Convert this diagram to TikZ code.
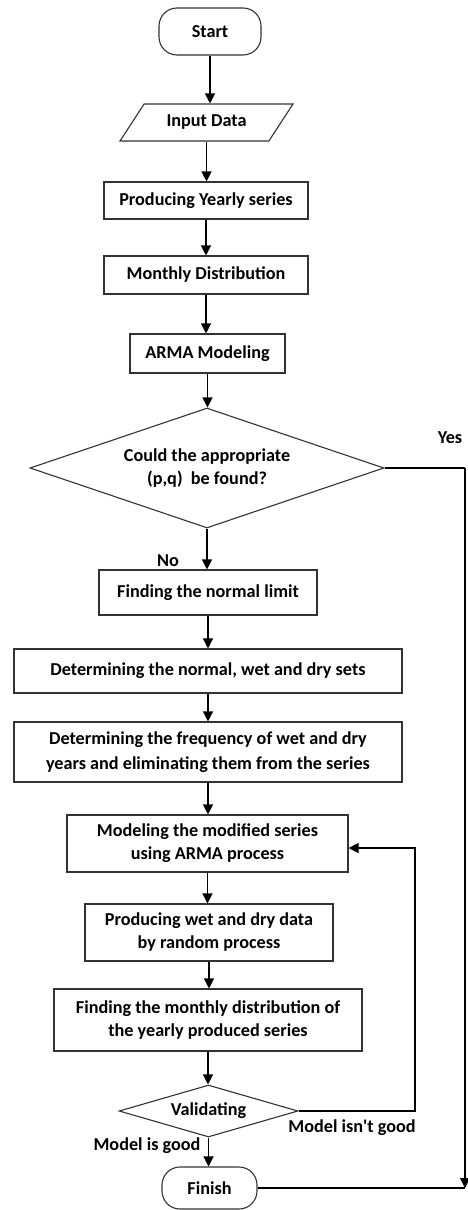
\documentclass[tikz,border=0pt]{standalone}
\usepackage{fontspec}
\setmainfont{Carlito}
\usetikzlibrary{shapes.geometric,arrows.meta,calc}
\begin{document}
\begin{tikzpicture}[x=1pt,y=-1pt,
  every node/.style={font=\fontsize{18.2}{23}\selectfont\bfseries, text=black, align=center},
  procbox/.style={draw=black!80, line width=1.1pt, rectangle, inner sep=0pt},
  termbox/.style={draw=black!80, line width=1.1pt, rectangle, rounded corners=18pt, inner sep=0pt},
  iobox/.style={draw=black!80, line width=1.1pt, trapezium, trapezium left angle=43.5, trapezium right angle=136.5, trapezium stretches=true, inner sep=0pt},
  decbox/.style={draw=black!80, line width=1.1pt, diamond, inner sep=0pt},
  conn/.style={draw=black, line width=1.2pt},
  arr/.style={conn, -{Triangle[width=10pt,length=10pt]}},
  lbl/.style={inner sep=0pt}
]
\useasboundingbox (0,0) rectangle (467,1210);
\fill[white] (0,0) rectangle (467,1210);

\node[termbox, minimum width=102pt, minimum height=47pt] (start) at (210,31.5) {Start};
\node[iobox, minimum width=173pt, minimum height=37pt] (input) at (206.5,122.5) {Input Data};
\node[procbox, minimum width=204pt, minimum height=37pt] (yearly) at (206,200.5) {Producing Yearly series};
\node[procbox, minimum width=204pt, minimum height=38pt] (monthly) at (206,275) {Monthly Distribution};
\node[procbox, minimum width=155pt, minimum height=39pt] (arma) at (207.5,353.5) {ARMA Modeling};
\node[decbox, shape aspect=2.95, minimum width=354pt, minimum height=120pt] (dec) at (207,468) {Could the appropriate\\(p,q)\ \ be found?};
\node[procbox, minimum width=218pt, minimum height=45pt] (normlim) at (208,592.5) {Finding the normal limit};
\node[procbox, minimum width=388pt, minimum height=44pt] (sets) at (208,671) {Determining the normal, wet and dry sets};
\node[procbox, minimum width=388pt, minimum height=60pt, font=\fontsize{18.2}{25}\selectfont\bfseries] (freq) at (208,752) {Determining the frequency of wet and dry\\years and eliminating them from the series};
\node[procbox, minimum width=281pt, minimum height=57pt] (model) at (207.5,843.5) {Modeling the modified series\\using ARMA process};
\node[procbox, minimum width=248pt, minimum height=57pt] (wetdry) at (209,932.5) {Producing wet and dry data\\by random process};
\node[procbox, minimum width=308pt, minimum height=62pt] (mdist) at (208,1020) {Finding the monthly distribution of\\the yearly produced series};
\node[decbox, shape aspect=3.44, minimum width=179pt, minimum height=52pt] (valid) at (208.5,1111) {Validating};
\node[termbox, minimum width=95pt, minimum height=42pt] (finish) at (209.5,1188) {Finish};

\node[lbl] (yes) at (450,438) {Yes};
\node[lbl] (no) at (168,561) {No};
\node[lbl] (bad) at (352,1128) {Model isn\textquotesingle t good};
\node[lbl] (good) at (147,1146) {Model is good};

\draw[arr] (start.south) -- (start.south |- input.north);
\draw[arr] (input.south) -- (input.south |- yearly.north);
\draw[arr] (yearly.south) -- (yearly.south |- monthly.north);
\draw[arr] (monthly.south) -- (monthly.south |- arma.north);
\draw[arr] (arma.south) -- (arma.south |- dec.north);
\draw[arr] (dec.south) -- (dec.south |- normlim.north);
\draw[arr] (normlim.south) -- (normlim.south |- sets.north);
\draw[arr] (sets.south) -- (sets.south |- freq.north);
\draw[arr] (freq.south) -- (freq.south |- model.north);
\draw[arr] (model.south) -- (model.south |- wetdry.north);
\draw[arr] (wetdry.south) -- (wetdry.south |- mdist.north);
\draw[arr] (mdist.south) -- (mdist.south |- valid.north);
\draw[arr] (valid.south) -- (valid.south |- finish.north);

\coordinate (fbk) at (415,848);
\draw[arr] (valid.east) -| (fbk) -- (fbk -| model.east);

\coordinate (yc1) at (465,468);
\coordinate (yc2) at (465,1188);
\draw[conn] (dec.east) -- (yc1);
\draw[arr] (yc1) -- (yc2);
\draw[conn] (finish.east) -- (finish.east -| yc2);
\end{tikzpicture}
\end{document}
